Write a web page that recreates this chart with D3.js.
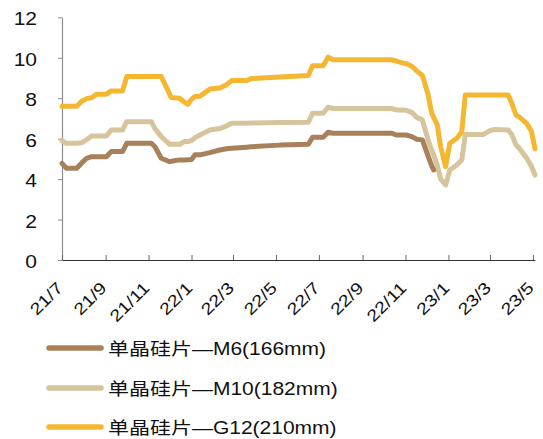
<!DOCTYPE html>
<html>
<head>
<meta charset="utf-8">
<script src="https://cdn.jsdelivr.net/npm/d3@7"></script>
<style>
  body { margin: 0; background: #fff; }
  svg { display: block; }
</style>
</head>
<body>
<svg id="chart" width="543" height="439"></svg>
<script>
// Weekly mono wafer prices (yuan / piece)
const dates = [
  "2021-07-01","2021-07-07","2021-07-22","2021-07-29","2021-08-05","2021-08-12","2021-08-19",
  "2021-09-02","2021-09-09","2021-09-25","2021-10-01","2021-11-05","2021-11-10","2021-11-19",
  "2021-12-01","2021-12-03","2021-12-15","2021-12-22","2021-12-27","2022-01-01","2022-01-06",
  "2022-01-13","2022-01-27","2022-02-10","2022-02-20","2022-02-27","2022-03-20","2022-03-27",
  "2022-05-06","2022-06-16","2022-06-22","2022-07-07","2022-07-14","2022-07-21","2022-10-12",
  "2022-10-19","2022-10-29","2022-11-02","2022-11-10","2022-11-17","2022-11-25","2022-12-03",
  "2022-12-08","2022-12-11","2022-12-16","2022-12-21","2022-12-28","2023-01-03","2023-01-13",
  "2023-01-20","2023-01-25","2023-02-19","2023-03-01","2023-03-08","2023-03-27","2023-04-01",
  "2023-04-07","2023-04-11","2023-04-22","2023-04-29","2023-05-04"
];
const m6 = [
  4.78,4.54,4.54,4.80,5.03,5.11,5.11,
  5.11,5.36,5.36,5.77,5.77,5.60,5.03,
  4.86,4.88,4.95,4.95,4.96,4.97,5.20,
  5.20,5.31,5.44,5.50,5.53,5.58,5.60,
  5.68,5.72,6.07,6.07,6.32,6.27,6.27,
  6.18,6.18,6.18,6.10,5.97,5.94,5.15,
  4.68,4.45,null,null,null,null,null,
  null,null,null,null,null,null,null,
  null,null,null,null,null
];
const m10 = [
  5.90,5.77,5.77,5.80,5.95,6.13,6.13,
  6.13,6.43,6.43,6.84,6.84,6.50,6.10,
  5.72,5.72,5.72,5.86,5.86,5.90,6.05,
  6.18,6.43,6.50,6.63,6.76,6.76,6.77,
  6.80,6.81,7.26,7.26,7.55,7.49,7.49,
  7.42,7.42,7.40,7.30,7.05,6.93,5.95,
  5.45,5.20,4.70,4.00,3.71,4.45,4.70,
  4.95,6.20,6.20,6.40,6.45,6.43,6.20,
  5.70,5.55,5.05,4.62,4.20
];
const g12 = [
  7.60,7.60,7.60,7.85,7.98,8.02,8.20,
  8.20,8.36,8.36,9.07,9.07,9.07,9.07,
  8.20,8.03,8.00,7.80,7.70,7.95,8.08,
  8.10,8.45,8.50,8.67,8.87,8.87,8.97,
  9.05,9.12,9.60,9.60,10.03,9.90,9.90,
  9.83,9.73,9.72,9.58,9.35,9.12,8.20,
  7.30,7.05,6.70,5.60,4.62,5.77,6.02,
  6.35,8.16,8.16,8.16,8.16,8.16,7.75,
  7.17,7.09,6.76,6.35,5.50
];

const seriesNames = ["单晶硅片—M6(166mm)", "单晶硅片—M10(182mm)", "单晶硅片—G12(210mm)"];
const seriesColors = ["#a8805a", "#d6c49c", "#f5b731"];
const yTicks = [0, 2, 4, 6, 8, 10, 12];
const xTickDates = ["2021-07-01","2021-09-01","2021-11-01","2022-01-01","2022-03-01","2022-05-01",
                    "2022-07-01","2022-09-01","2022-11-01","2023-01-01","2023-03-01","2023-05-01"];
const xTickLabels = ["21/7","21/9","21/11","22/1","22/3","22/5","22/7","22/9","22/11","23/1","23/3","23/5"];

const parse = d3.timeParse("%Y-%m-%d");
const svg = d3.select("#chart");
const font = "'Liberation Sans', Arial, 'Noto Sans CJK SC', sans-serif";

const x = d3.scaleTime()
  .domain([parse(dates[0]), parse(dates[dates.length - 1])])
  .range([62, 535]);
const y = d3.scaleLinear().domain([0, 12]).range([260, 17.3]);

// y axis
const yAxis = svg.append("g")
  .attr("transform", "translate(62,0)")
  .call(d3.axisLeft(y).tickValues(yTicks).tickSizeInner(4).tickSizeOuter(0));
yAxis.select(".domain").attr("stroke", "#8c8c8c").attr("stroke-width", 1.2);
yAxis.selectAll(".tick line").attr("stroke", "#8c8c8c");
yAxis.selectAll(".tick text")
  .attr("x", null).attr("dy", null)
  .attr("text-anchor", "end")
  .attr("fill", "#111")
  .style("font-family", font).style("font-size", "17.5px")
  .attr("transform", "translate(-25,7.5) scale(1.2,1)");

// x axis
const xAxis = svg.append("g")
  .attr("transform", "translate(0,260)")
  .call(d3.axisBottom(x).tickValues(xTickDates.map(parse)).tickSizeInner(-5).tickSizeOuter(0)
    .tickFormat((d, i) => xTickLabels[i]));
xAxis.select(".domain").attr("stroke", "#333").attr("stroke-width", 1.2);
xAxis.selectAll(".tick line").attr("stroke", "#666");
xAxis.selectAll(".tick text")
  .attr("y", null).attr("dy", null)
  .attr("text-anchor", "end")
  .attr("fill", "#111")
  .style("font-family", font).style("font-size", "16.5px")
  .attr("transform", "translate(1.5,29) rotate(-45) scale(1.2,1)");

// series lines
const series = [m6, m10, g12];
const line = d3.line()
  .x(d => x(d.date))
  .y(d => y(d.value));

const drawOrder = [1, 0, 2];
drawOrder.forEach(k => {
  const pts = dates.map((d, i) => ({ date: parse(d), value: series[k][i] }))
    .filter(p => p.value != null);
  svg.append("path")
    .datum(pts)
    .attr("fill", "none")
    .attr("stroke", seriesColors[k])
    .attr("stroke-width", 5)
    .attr("stroke-linejoin", "round")
    .attr("stroke-linecap", "round")
    .attr("d", line);
});

// legend
const legendY = [348, 388, 427];
seriesNames.forEach((name, k) => {
  const g = svg.append("g").attr("transform", `translate(0,${legendY[k]})`);
  g.append("line")
    .attr("x1", 49).attr("x2", 101)
    .attr("stroke", seriesColors[k])
    .attr("stroke-width", 5.5)
    .attr("stroke-linecap", "round");
  g.append("text")
    .attr("transform", "translate(108,6.5) scale(1.2,1)")
    .attr("fill", "#111")
    .style("font-family", font).style("font-size", "17.5px")
    .text(name);
});
</script>
</body>
</html>
